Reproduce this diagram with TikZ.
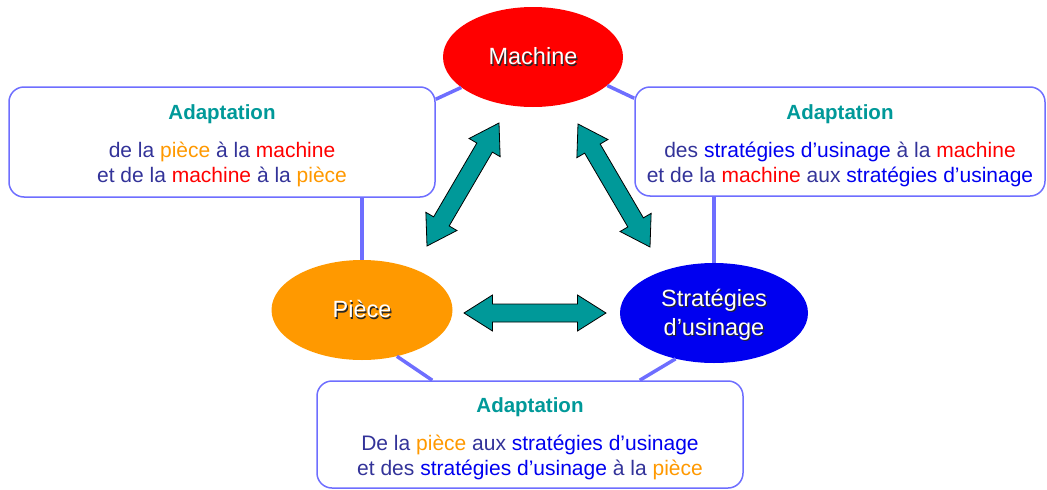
\documentclass[tikz,border=0pt]{standalone}
\usepackage{fontspec}
\setmainfont{Liberation Sans}
\usetikzlibrary{calc,shapes.geometric}
\definecolor{linkc}{RGB}{110,110,255}
\definecolor{txtc}{RGB}{51,51,153}
\definecolor{orngc}{RGB}{255,153,0}
\definecolor{redc}{RGB}{255,0,0}
\definecolor{bluec}{RGB}{0,0,240}
\definecolor{tealc}{RGB}{0,153,153}
\newcommand\wPiece{\textcolor{orngc}{pièce}}
\newcommand\wMach{\textcolor{redc}{machine}}
\newcommand\wStrat{\textcolor{bluec}{stratégies d’usinage}}
\newcommand\shTxt[1]{\rlap{\kern1.2pt\raisebox{-1.2pt}{\textcolor{black!85}{#1}}}\textcolor{white}{#1}}
\newcommand\fatArrow[2]{%
  \draw[fatarr] (#1)
    -- ($(#1)!28.5pt!(#2)!18pt!90:(#2)$)
    -- ($(#1)!28.5pt!(#2)!9pt!90:(#2)$)
    -- ($(#2)!28.5pt!(#1)!9pt!-90:(#1)$)
    -- ($(#2)!28.5pt!(#1)!18pt!-90:(#1)$)
    -- (#2)
    -- ($(#2)!28.5pt!(#1)!18pt!90:(#1)$)
    -- ($(#2)!28.5pt!(#1)!9pt!90:(#1)$)
    -- ($(#1)!28.5pt!(#2)!9pt!-90:(#2)$)
    -- ($(#1)!28.5pt!(#2)!18pt!-90:(#2)$)
    -- cycle;}
\begin{document}
\begin{tikzpicture}[x=1pt,y=-1pt,
  infobox/.style={draw=linkc, line width=1.5pt, rounded corners=15pt, fill=white,
    align=center, inner sep=0pt, font=\fontsize{21}{25}\selectfont, text=txtc},
  blob/.style={ellipse, minimum width=180pt, minimum height=100pt, inner sep=0pt,
    align=center, font=\fontsize{23.5}{29.5}\selectfont},
  link/.style={draw=linkc, line width=3.5pt},
  fatarr/.style={draw=black, line width=0.8pt, fill=tealc, line join=miter}]
\useasboundingbox (0,0) rectangle (1047,490);

\newcommand\ttl{\rule{0pt}{23pt}{\fontsize{20.5}{25}\selectfont\bfseries\textcolor{tealc}{Adaptation}}\\[13pt]}

\node[infobox, minimum width=426pt, minimum height=110pt] (lbox) at (222,142)
  {\ttl de la \wPiece{} à la \wMach\\ et de la \wMach{} à la \wPiece};
\node[infobox, minimum width=410pt, minimum height=109pt] (rbox) at (840,141.5)
  {\ttl des \wStrat{} à la \wMach\\ et de la \wMach{} aux \wStrat};
\node[infobox, minimum width=426pt, minimum height=107pt] (bbox) at (530,434.5)
  {\ttl De la \wPiece{} aux \wStrat\\ et des \wStrat{} à la \wPiece};

\node[blob, fill=redc, minimum width=180pt] (mach) at (533,57) {\shTxt{Machine}};
\node[blob, fill=orngc, minimum width=181pt] (piece) at (362,310) {\shTxt{Pièce}};
\node[blob, fill=bluec, minimum width=188pt] (strat) at (714,313)
  {\rule{0pt}{22pt}\shTxt{Stratégies}\\\shTxt{d’usinage}};

\draw[link] (mach.203) -- ($(lbox.north east)+(0,13)$);
\draw[link] (mach.339) -- ($(rbox.north west)+(0,12)$);
\draw[link] (piece.north) -- (piece.north |- lbox.south);
\draw[link] (strat.north) -- (strat.north |- rbox.south);
\draw[link] (piece.-53) -- ($(bbox.north west)+(116,0)$);
\draw[link] (strat.230) -- ($(bbox.north east)+(-104,0)$);

\coordinate (la1) at (427,246);
\coordinate (la2) at (499,123);
\coordinate (ra1) at (578,124);
\coordinate (ra2) at (650,247);
\coordinate (ha1) at (464,313);
\coordinate (ha2) at (606,313);
\fatArrow{la1}{la2}
\fatArrow{ra1}{ra2}
\fatArrow{ha1}{ha2}
\end{tikzpicture}
\end{document}
